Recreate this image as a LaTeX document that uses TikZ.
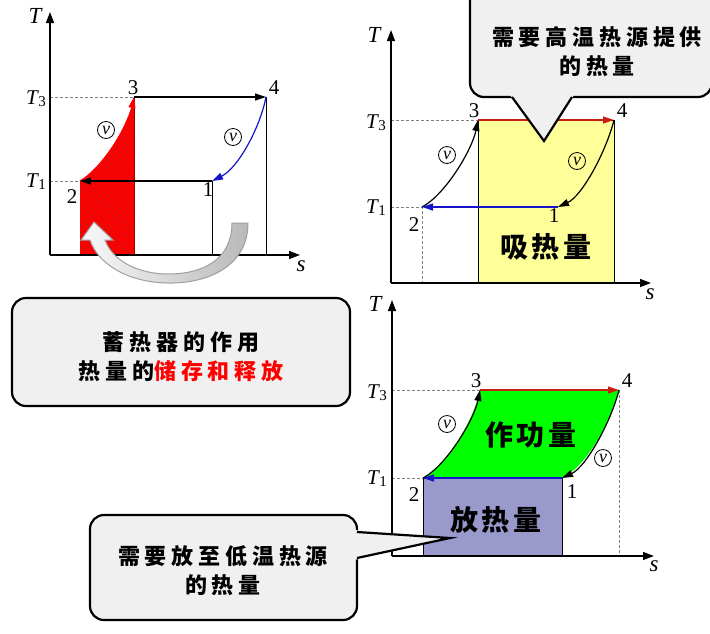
\documentclass[tikz,border=0pt]{standalone}
\usepackage{fontspec}
\setmainfont{Liberation Serif}
\newfontfamily\sayfont[LetterSpace=22]{Noto Sans CJK SC}
\newfontfamily\areafont[LetterSpace=12]{Noto Sans CJK SC}
\usetikzlibrary{arrows.meta, patterns.meta}

\definecolor{heatyellow}{RGB}{255,255,153}
\definecolor{workgreen}{RGB}{0,255,0}
\definecolor{dumpblue}{RGB}{153,153,204}
\definecolor{bubblegray}{RGB}{240,240,240}
\definecolor{linered}{RGB}{200,30,20}
\definecolor{lineblue}{RGB}{20,20,200}
\definecolor{hatchred}{RGB}{185,25,25}

\newcommand{\Tlev}[1]{\textit{T}\kern-0.5pt\raisebox{-2pt}{\fontsize{15}{15}\selectfont #1}}

\begin{document}
\begin{tikzpicture}[x=1pt, y=-1pt,
	axis/.style={-{Triangle[length=11pt,width=8pt]}, line width=1.3pt},
	proc/.style={-{Triangle[length=11pt,width=7pt]}, line width=1.2pt},
	level/.style={densely dashed, gray, line width=0.6pt},
	drop/.style={line width=0.8pt},
	lbl/.style={inner sep=0pt, font=\fontsize{21}{21}\selectfont},
	axlbl/.style={inner sep=0pt, font=\itshape\fontsize{23}{23}\selectfont},
	vmark/.style={circle, draw, line width=0.8pt, inner sep=0pt, minimum size=17pt, font=\itshape\fontsize{18}{18}\selectfont},
	bubble/.style={draw, line width=2.2pt, fill=bubblegray, rounded corners=14pt},
	area/.style={inner sep=0pt, font=\areafont\bfseries\fontsize{28}{28}\selectfont},
	say/.style={inner sep=0pt, align=center, font=\sayfont\bfseries\fontsize{22}{29}\selectfont}
	]
	\useasboundingbox (0,0) rectangle (710,633);
	\clip (0,0) rectangle (710,633);
	
	% regenerator cycle, top left
	\coordinate (oa) at (50,255);
	\coordinate (ta) at (50,12);
	\coordinate (sa) at (300,255);
	\coordinate (a1) at (212,181);
	\coordinate (a2) at (80,181);
	\coordinate (a3) at (134,97);
	\coordinate (a4) at (266,97);
	\path[fill=red, postaction={pattern={Lines[angle=-45, distance=5pt, line width=0.6pt]}, pattern color=hatchred}]
		(a2) .. controls (100,170) and (128,128) .. (a3) -- (a3 |- oa) -- (a2 |- oa) -- cycle;
	\draw[drop, red!60!black] (a3) -- (a3 |- oa);
	\draw[drop] (a1) -- (a1 |- oa);
	\draw[drop] (a4) -- (a4 |- oa);
	\draw[level] (oa |- a3) -- (a3);
	\draw[level] (oa |- a2) -- (a2);
	\draw[proc, red] (a2) .. controls (100,170) and (128,128) .. (a3);
	\draw[proc] (a3) -- (a4);
	\draw[proc, lineblue] (a4) .. controls (260,128) and (238,168) .. (a1);
	\draw[proc] (a1) -- (a2);
	\draw[axis] (oa) -- (ta);
	\draw[axis] (oa) -- (sa);
	\node[axlbl] (Ta) at (35,16) {T};
	\node[axlbl] (sla) at (301,266) {s};
	\node[lbl] (T3a) at (36,99) {\Tlev{3}};
	\node[lbl] (T1a) at (36,182) {\Tlev{1}};
	\node[lbl] (n3a) at (133,88) {3};
	\node[lbl] (n4a) at (274,88) {4};
	\node[lbl] (n2a) at (72,197) {2};
	\node[lbl] (n1a) at (208,190) {1};
	\node[vmark] (va1) at (106,130) {v};
	\node[vmark] (va2) at (233,137) {v};
	% turning arrow
	\path[draw=gray!75, line width=1pt, left color=gray!5, right color=gray!55]
		(248,223) .. controls (248,268) and (205,284) .. (167,283)
		.. controls (125,282) and (97,262) .. (90,240) -- (81,240) -- (94,222) -- (113,240) -- (105,240)
		.. controls (113,262) and (140,274) .. (168,274)
		.. controls (205,274) and (232,258) .. (232,223) -- cycle;
	
	% heat supplied, top right
	\coordinate (ob) at (391,283);
	\coordinate (tb) at (391,30);
	\coordinate (sb) at (651,283);
	\coordinate (b1) at (558,207);
	\coordinate (b2) at (422,207);
	\coordinate (b3) at (478,120);
	\coordinate (b4) at (614,120);
	\draw[drop, fill=heatyellow] (b3) rectangle (b4 |- ob);
	\draw[level] (ob |- b3) -- (b3);
	\draw[level] (ob |- b2) -- (b2) -- (b2 |- ob);
	\draw[proc, linered] (b3) -- (b4);
	\draw[proc] (b2) .. controls (445,195) and (472,150) .. (b3);
	\draw[proc] (b4) .. controls (606,152) and (582,196) .. (b1);
	\draw[proc, lineblue] (b1) -- (b2);
	\draw[axis] (ob) -- (tb);
	\draw[axis] (ob) -- (sb);
	\node[axlbl] (Tb) at (374,35) {T};
	\node[axlbl] (slb) at (650,294) {s};
	\node[lbl] (T3b) at (376,123) {\Tlev{3}};
	\node[lbl] (T1b) at (376,208) {\Tlev{1}};
	\node[lbl] (n3b) at (474,111) {3};
	\node[lbl] (n4b) at (622,111) {4};
	\node[lbl] (n2b) at (414,225) {2};
	\node[lbl] (n1b) at (554,216) {1};
	\node[vmark] (vb1) at (447,155) {v};
	\node[vmark] (vb2) at (577,161) {v};
	\node[area] (qin) at (546,247) {吸热量};
	
	% work and heat rejected, bottom right
	\coordinate (oc) at (392,556);
	\coordinate (tc) at (392,300);
	\coordinate (sc) at (654,556);
	\coordinate (c1) at (562,478);
	\coordinate (c2) at (423,478);
	\coordinate (c3) at (480,390);
	\coordinate (c4) at (619,390);
	\draw[drop, fill=dumpblue] (c2) rectangle (c1 |- oc);
	\fill[workgreen] (c2) .. controls (446,466) and (474,420) .. (c3) -- (c4)
		.. controls (611,422) and (586,467) .. (c1) -- cycle;
	\draw[level] (oc |- c3) -- (c3);
	\draw[level] (oc |- c2) -- (c2);
	\draw[level] (c4) -- (c4 |- oc);
	\draw[proc, linered] (c3) -- (c4);
	\draw[proc] (c2) .. controls (446,466) and (474,420) .. (c3);
	\draw[proc] (c4) .. controls (611,422) and (586,467) .. (c1);
	\draw[proc, lineblue] (c1) -- (c2);
	\draw[axis] (oc) -- (tc);
	\draw[axis] (oc) -- (sc);
	\node[axlbl] (Tc) at (375,304) {T};
	\node[axlbl] (slc) at (654,566) {s};
	\node[lbl] (T3c) at (377,393) {\Tlev{3}};
	\node[lbl] (T1c) at (377,479) {\Tlev{1}};
	\node[lbl] (n3c) at (476,381) {3};
	\node[lbl] (n4c) at (627,381) {4};
	\node[lbl] (n2c) at (414,495) {2};
	\node[lbl] (n1c) at (572,492) {1};
	\node[vmark] (vc1) at (447,424) {v};
	\node[vmark] (vc2) at (603,458) {v};
	\node[area] (work) at (531,435) {作功量};
	\node[area] (qout) at (496,520) {放热量};
	
	% callouts
	\draw[bubble] (470,-40) rectangle (712,97);
	\fill[bubblegray] (510,95) -- (544,141) -- (574,95) -- cycle;
	\draw[line width=2.2pt] (512,97) -- (544,141) -- (572,97);
	\node[say] (hot) at (597,52) {需要高温热源提供\\的热量};
	
	\draw[bubble] (12,298) rectangle (350,406);
	\node[say] (regen) at (181,357) {蓄热器的作用\\热量的\textcolor{red}{储存和释放}};
	
	\draw[bubble] (90,515) rectangle (357,620);
	\fill[bubblegray] (354,530) -- (450,538) -- (354,560) -- cycle;
	\draw[line width=2.2pt] (357,532) -- (450,538) -- (357,558);
	\node[say] (cold) at (223,571) {需要放至低温热源\\的热量};
\end{tikzpicture}
\end{document}
